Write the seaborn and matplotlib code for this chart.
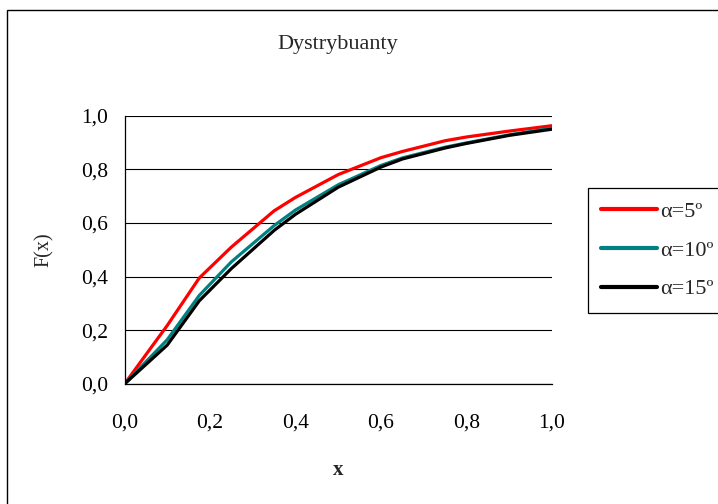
import numpy as np
import pandas as pd
import matplotlib
matplotlib.use("Agg")
import matplotlib.pyplot as plt
import seaborn as sns
from matplotlib.patches import Rectangle

# ---- data ----
x_vals = [0, 0.1, 0.175, 0.25, 0.35, 0.4, 0.5, 0.6, 0.65, 0.75, 0.8, 0.9, 1.0]
f_5 = [0, 0.218, 0.395, 0.51, 0.645, 0.695, 0.78, 0.843, 0.866, 0.906, 0.92, 0.942, 0.962]
f_10 = [0, 0.165, 0.33, 0.455, 0.59, 0.648, 0.742, 0.814, 0.842, 0.882, 0.898, 0.928, 0.953]
f_15 = [0, 0.145, 0.31, 0.43, 0.572, 0.632, 0.733, 0.808, 0.838, 0.879, 0.896, 0.926, 0.949]
series_names = ["α=5º", "α=10º", "α=15º"]
series_colors = ["#FF0000", "#008080", "#000000"]
tick_vals = [0.0, 0.2, 0.4, 0.6, 0.8, 1.0]
tick_labels = ["0,0", "0,2", "0,4", "0,6", "0,8", "1,0"]
title = "Dystrybuanty"
xlabel = "x"
ylabel = "F(x)"

df = pd.DataFrame({
    "x": x_vals * 3,
    "F": f_5 + f_10 + f_15,
    "series": [series_names[0]] * len(x_vals) + [series_names[1]] * len(x_vals) + [series_names[2]] * len(x_vals),
})

sns.set_style("white")
plt.rcParams["font.family"] = ["Liberation Serif", "DejaVu Serif"]

fig = plt.figure(figsize=(7.18, 5.04), dpi=100)
ax = fig.add_axes([124.5 / 718, 1 - 384 / 504, (552 - 124.5) / 718, (384 - 115.5) / 504])

sns.lineplot(data=df, x="x", y="F", hue="series", hue_order=series_names,
             palette=series_colors, linewidth=2.3, ax=ax, legend=True, sort=False)

ax.set_xlim(0, 1)
ax.set_ylim(0, 1)
ax.set_xticks(tick_vals)
ax.set_xticklabels(tick_labels)
ax.set_yticks(tick_vals)
ax.set_yticklabels(tick_labels)
ax.tick_params(axis="both", labelsize=15.5, direction="out", length=5, width=0.9,
               color="black", labelcolor="black", pad=7)
ax.tick_params(axis="x", pad=16)
ax.yaxis.grid(True, color="black", linewidth=0.8)
ax.xaxis.grid(False)
ax.set_axisbelow(True)
for s in ["top", "right"]:
    ax.spines[s].set_visible(False)
for s in ["left", "bottom"]:
    ax.spines[s].set_color("black")
    ax.spines[s].set_linewidth(0.9)

ax.set_xlabel(xlabel, fontsize=15, fontweight="bold", labelpad=20)
ax.set_ylabel(ylabel, fontsize=14.5, labelpad=19)
fig.text(338 / 718, 1 - 44 / 504, title, ha="center", va="center", fontsize=16)

leg = ax.get_legend()
leg.remove()
handles, labels = ax.get_legend_handles_labels()
leg = fig.legend(handles, labels, loc="upper left",
                 bbox_to_anchor=(588 / 718, 1 - 188 / 504),
                 fontsize=16, frameon=True, fancybox=False, framealpha=1,
                 edgecolor="black", handlelength=2.5, handletextpad=0.15,
                 labelspacing=0.82, borderpad=0.6, borderaxespad=0)
leg.get_frame().set_linewidth(0.9)
for line in leg.get_lines():
    line.set_linewidth(3)

fig.patches.append(Rectangle((7 / 718, -0.1), 1.2, 1 - 10 / 504 + 0.1,
                             transform=fig.transFigure, fill=False,
                             edgecolor="black", linewidth=1.0))

fig.savefig("out.png", dpi=100)
